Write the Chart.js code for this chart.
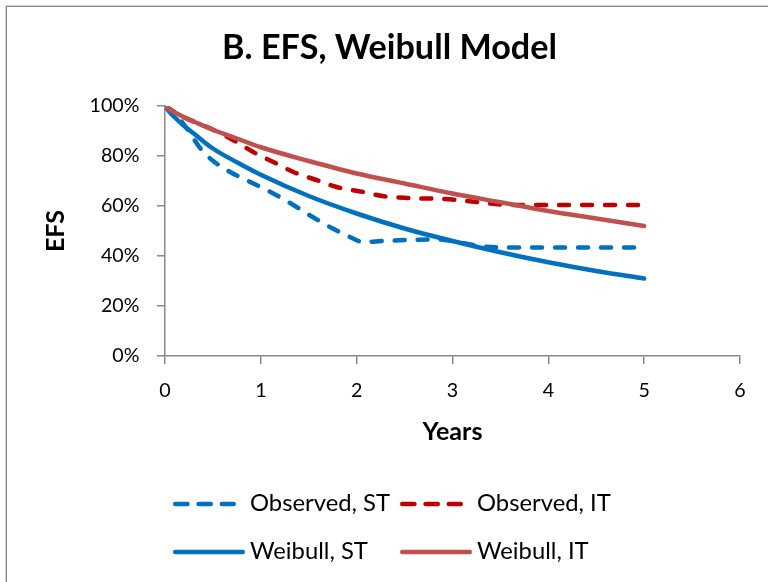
<!DOCTYPE html>
<html><head><meta charset="utf-8">
<script src="https://cdn.jsdelivr.net/npm/chart.js@4.4.1/dist/chart.umd.min.js"></script>
<style>
html,body{margin:0;padding:0;width:768px;height:582px;overflow:hidden;background:#fff;}
#frame{position:absolute;left:6px;top:6px;width:900px;height:900px;border-left:1px solid #858585;border-top:1px solid #858585;box-shadow:-0.5px -0.5px 0 #b0b0b0;}
#c{position:absolute;left:0;top:0;}
#legend{position:absolute;left:0;top:0;width:768px;height:582px;pointer-events:none;font-family:Lato,sans-serif;color:#000;}
#legend .t{position:absolute;white-space:nowrap;}
#legend svg{position:absolute;overflow:visible;}
</style></head><body>
<div id="frame"></div>
<canvas id="c" width="768" height="582"></canvas>
<div id="legend"></div>
<script>
// ---- data ----
const chartTitle = 'B. EFS, Weibull Model';
const xAxisTitle = 'Years';
const yAxisTitle = 'EFS';
const seriesNames = ['Observed, ST', 'Observed, IT', 'Weibull, ST', 'Weibull, IT'];
const xTicks = [0, 1, 2, 3, 4, 5, 6];
const yTicks = [0, 20, 40, 60, 80, 100];

const obsStYears = [0, 0.1, 0.19, 0.28, 0.37, 0.49, 0.68, 0.89, 1.13, 1.34, 1.54, 1.75, 1.93, 2.07, 2.27, 2.53, 2.85, 3.1, 3.35, 3.6, 4.0, 4.5, 5.0];
const obsStEfs   = [100, 97, 93, 88, 83, 78.4, 73.6, 69.6, 65, 60.4, 55.6, 51, 47.6, 45.6, 46, 46.4, 46.6, 45.2, 43.7, 43.4, 43.4, 43.4, 43.4];

const obsItYears = [0, 0.19, 0.44, 0.71, 0.92, 1.13, 1.34, 1.58, 1.79, 2.07, 2.27, 2.53, 2.9, 3.2, 3.5, 3.8, 4.2, 4.6, 5.0];
const obsItEfs   = [100, 95.6, 91.6, 86.4, 81.6, 77.6, 73.6, 70.4, 67.6, 65.6, 64, 63.2, 62.8, 61.8, 60.6, 60.4, 60.4, 60.4, 60.4];

const weibullYears = [0, 0.05, 0.1, 0.2, 0.3, 0.5, 0.75, 1, 1.5, 2, 2.5, 3, 3.5, 4, 4.5, 5];
const weibullStEfs = [100, 97.5, 95.5, 92, 89, 83, 77.5, 72.5, 64, 57, 51, 46, 41.5, 37.5, 34, 31];
const weibullItEfs = [100, 98.6, 97.5, 95.5, 93.8, 90.5, 87, 83.5, 78, 73, 69, 65, 61.5, 58, 55, 52];

// ---- styles ----
const FONT = 'Lato';
const colBlue = '#0070C0', colRedDash = '#C00000', colRedSolid = '#C0504D', axisCol = '#898989';
const mctx = document.createElement('canvas').getContext('2d');
function fitSize(text, weight, target) { mctx.font = weight + ' 100px ' + FONT; return 100 * target / mctx.measureText(text).width; }
const titleSize = fitSize(chartTitle, 'bold', 335);
const tickSize = fitSize('100%', 'normal', 50);
const axTitleSize = fitSize(xAxisTitle, 'bold', 60);
const legendSize = fitSize(seriesNames[0], 'normal', 140);

const pts = (xs, ys) => xs.map((x, i) => ({x: x, y: ys[i]}));
const DASH = [10, 13];

const datasets = [
  {label: seriesNames[0], data: pts(obsStYears, obsStEfs), borderColor: colBlue, borderDash: DASH, order: 4},
  {label: seriesNames[1], data: pts(obsItYears, obsItEfs), borderColor: colRedDash, borderDash: DASH, order: 3},
  {label: seriesNames[2], data: pts(weibullYears, weibullStEfs), borderColor: colBlue, order: 2},
  {label: seriesNames[3], data: pts(weibullYears, weibullItEfs), borderColor: colRedSolid, order: 1}
].map(d => Object.assign({borderWidth: 4.5, borderCapStyle: 'round', borderJoinStyle: 'round', pointRadius: 0,
  cubicInterpolationMode: 'monotone', fill: false, borderDash: []}, d));

const tLH = titleSize * 1.2;
const aLH = axTitleSize * 1.2;

const chart = new Chart(document.getElementById('c'), {
  type: 'line',
  data: {datasets: datasets},
  options: {
    responsive: false, animation: false, devicePixelRatio: 1,
    layout: {padding: {left: 39, right: 28, top: 0, bottom: 582 - 356 - 100}},
    plugins: {
      legend: {display: false}, tooltip: {enabled: false},
      title: {display: true, text: chartTitle, color: '#000',
        font: {family: FONT, size: titleSize, weight: 'bold', lineHeight: 1.2},
        padding: {top: 48 - tLH / 2, bottom: 106 - 48 - tLH / 2}}
    },
    scales: {
      x: {type: 'linear', min: xTicks[0], max: xTicks[xTicks.length - 1],
        afterFit: s => { s.height = 100; },
        afterBuildTicks: s => { s.ticks = xTicks.map(v => ({value: v})); },
        ticks: {color: '#000', padding: 27 - 0.6 * tickSize, font: {family: FONT, size: tickSize}, maxRotation: 0},
        grid: {drawOnChartArea: false, drawTicks: true, tickLength: 8, color: axisCol, lineWidth: 1.5},
        border: {display: true, color: axisCol, width: 1.5},
        title: {display: true, text: xAxisTitle, color: '#000', font: {family: FONT, size: axTitleSize, weight: 'bold'},
          padding: {top: 0, bottom: 24 - aLH / 2}}
      },
      y: {type: 'linear', min: yTicks[0], max: yTicks[yTicks.length - 1],
        afterFit: s => { s.width = 126; },
        afterBuildTicks: s => { s.ticks = yTicks.map(v => ({value: v})); },
        ticks: {color: '#000', padding: 17.5, font: {family: FONT, size: tickSize}, callback: v => v + '%'},
        grid: {drawOnChartArea: false, drawTicks: true, tickLength: 8, color: axisCol, lineWidth: 1.5},
        border: {display: true, color: axisCol, width: 1.5},
        title: {display: true, text: yAxisTitle, color: '#000', font: {family: FONT, size: axTitleSize, weight: 'bold'},
          padding: {top: 17 - aLH / 2, bottom: 0}}
      }
    }
  }
});

// ---- HTML legend built from the datasets (2 x 2 grid) ----
(function buildLegend() {
  const el = document.getElementById('legend');
  const cols = [173, 400], rows = [504, 552];
  chart.data.datasets.forEach((ds, i) => {
    const cx = cols[i % 2], cy = rows[Math.floor(i / 2)];
    const dashed = ds.borderDash && ds.borderDash.length;
    const w = ds.borderWidth, r = w / 2;
    const len = dashed ? 63 : 72;
    const svgNS = 'http://www.w3.org/2000/svg';
    const svg = document.createElementNS(svgNS, 'svg');
    svg.setAttribute('width', 80); svg.setAttribute('height', 12);
    svg.style.left = cx + 'px'; svg.style.top = (cy - 6) + 'px';
    const ln = document.createElementNS(svgNS, 'line');
    ln.setAttribute('x1', r); ln.setAttribute('x2', len - r);
    ln.setAttribute('y1', 6); ln.setAttribute('y2', 6);
    ln.setAttribute('stroke', ds.borderColor); ln.setAttribute('stroke-width', w);
    ln.setAttribute('stroke-linecap', 'round');
    if (dashed) ln.setAttribute('stroke-dasharray', '12.2 11.1');
    svg.appendChild(ln); el.appendChild(svg);
    const t = document.createElement('div');
    t.className = 't'; t.textContent = ds.label;
    t.style.fontSize = legendSize + 'px'; t.style.lineHeight = legendSize + 'px';
    t.style.left = (cx + 77) + 'px'; t.style.top = (cy - 0.529 * legendSize) + 'px';
    el.appendChild(t);
  });
})();
</script>
</body></html>
